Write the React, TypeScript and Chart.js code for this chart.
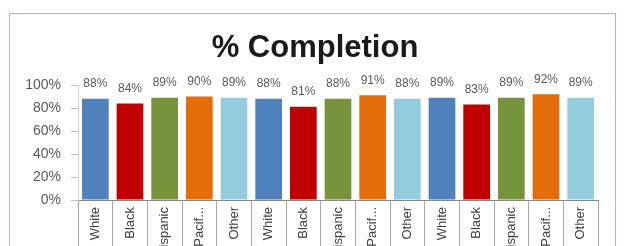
import React, { useEffect, useRef } from "react";
import { Chart, registerables } from "chart.js";

Chart.register(...registerables);

const chartTitle = "% Completion";
const categories = [
  "White", "Black", "Hispanic", "Pacif...", "Other",
  "White", "Black", "Hispanic", "Pacif...", "Other",
  "White", "Black", "Hispanic", "Pacif...", "Other",
];
const completion = [88, 84, 89, 90, 89, 88, 81, 88, 91, 88, 89, 83, 89, 92, 89];
const groupColors = ["#4F81BD", "#C00000", "#77933C", "#E46C0A", "#93CDDD"];
const yTicks = [0, 20, 40, 60, 80, 100];

const FONT = "'Liberation Sans', Arial, sans-serif";

const framePlugin = {
  id: "frame",
  beforeDraw(chart: any) {
    const ctx = chart.ctx;
    ctx.save();
    ctx.fillStyle = "#FFFFFF";
    ctx.fillRect(0, 0, chart.width, chart.height);
    ctx.strokeStyle = "#A9B6C7";
    ctx.lineWidth = 1;
    ctx.strokeRect(9.5, 13.5, 606, 400);
    // chart title, centred in the frame
    ctx.font = `bold 31px ${FONT}`;
    ctx.fillStyle = "#1A1A1A";
    ctx.textAlign = "center";
    ctx.textBaseline = "alphabetic";
    ctx.fillText(chartTitle, 315, 57);
    ctx.restore();
  },
};

const dataLabelPlugin = {
  id: "dataLabels",
  afterDatasetsDraw(chart: any) {
    const ctx = chart.ctx;
    const meta = chart.getDatasetMeta(0);
    ctx.save();
    ctx.font = `12px ${FONT}`;
    ctx.fillStyle = "#595959";
    ctx.textAlign = "center";
    ctx.textBaseline = "bottom";
    meta.data.forEach((bar: any, i: number) => {
      const v = chart.data.datasets[0].data[i];
      ctx.fillText(`${v}%`, bar.x, bar.y - 9);
    });
    ctx.restore();
  },
};

export default function App() {
  const ref = useRef<HTMLCanvasElement | null>(null);

  useEffect(() => {
    document.body.style.margin = "0";
    const canvas = ref.current;
    if (!canvas) return;
    const chart = new Chart(canvas, {
      type: "bar",
      data: {
        labels: categories,
        datasets: [
          {
            data: completion,
            backgroundColor: categories.map((_, i) => groupColors[i % groupColors.length]),
            borderWidth: 0,
            categoryPercentage: 1,
            barPercentage: 0.77,
          },
        ],
      },
      options: {
        responsive: false,
        animation: false,
        devicePixelRatio: 1,
        layout: { padding: { left: 10, right: 27, top: 85, bottom: 0 } },
        plugins: {
          legend: { display: false },
          tooltip: { enabled: false },
          title: { display: false },
        },
        scales: {
          x: {
            afterFit(scale: any) {
              scale.height = 100;
            },
            grid: {
              offset: true,
              drawOnChartArea: false,
              drawTicks: true,
              tickLength: 80,
              color: "#A6A6A6",
            },
            border: { display: true, color: "#868686" },
            ticks: {
              autoSkip: false,
              minRotation: 90,
              maxRotation: 90,
              padding: -73,
              color: "#404040",
              font: { family: FONT, size: 13 },
            },
          },
          y: {
            min: 0,
            max: 100,
            afterFit(scale: any) {
              scale.width = 68;
            },
            afterBuildTicks(scale: any) {
              scale.ticks = yTicks.map((v) => ({ value: v }));
            },
            grid: {
              drawOnChartArea: false,
              drawTicks: true,
              tickLength: 7,
              color: "#BFBFBF",
            },
            border: { display: true, color: "#D4D4D4" },
            ticks: {
              padding: 10,
              color: "#595959",
              font: { family: FONT, size: 14 },
              callback: (v: any) => `${v}%`,
            },
          },
        },
      },
      plugins: [framePlugin, dataLabelPlugin],
    });
    return () => chart.destroy();
  }, []);

  return (
    <div style={{ width: 625, height: 246, overflow: "hidden", background: "#fff" }}>
      <canvas ref={ref} width={625} height={300} style={{ display: "block" }} />
    </div>
  );
}
